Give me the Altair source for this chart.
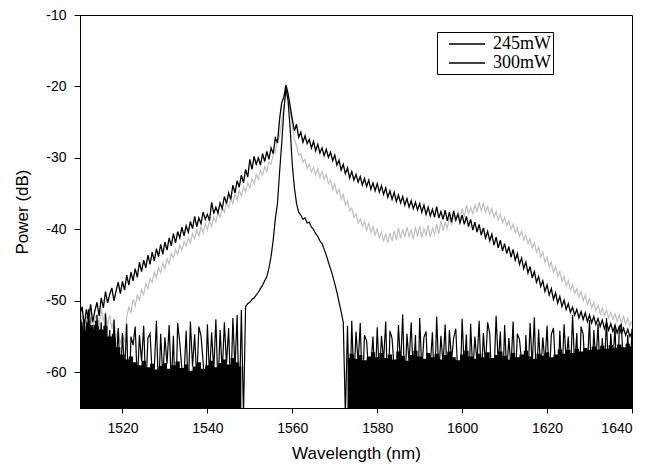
import altair as alt
import pandas as pd
import numpy as np

# ---------------- data ----------------
WL_START = 1510.0
WL_STEP = 0.5          # nm between samples of the three traces

# black broad trace (300mW)
P300 = [
    -52.0, -50.8, -53.5, -51.2, -52.6, -50.5, -53.0, -51.4, -50.2, -52.1,
    -49.6, -51.0, -48.7, -50.3, -49.1, -48.2, -50.0, -48.6, -47.4, -49.0,
    -47.3, -48.5, -46.4, -47.8, -46.0, -47.2, -45.5, -46.7, -44.6, -45.9,
    -44.3, -45.4, -43.6, -44.9, -43.2, -44.4, -42.7, -43.8, -42.1, -43.5,
    -41.8, -42.9, -41.2, -42.3, -40.6, -41.9, -40.3, -41.2, -39.7, -40.9,
    -39.5, -40.4, -38.9, -39.9, -38.2, -39.6, -38.4, -39.2, -37.6, -38.6,
    -37.9, -38.8, -36.2, -37.8, -36.9, -37.7, -36.3, -37.1, -35.4, -36.4,
    -34.9, -35.8, -33.8, -34.9, -33.2, -34.1, -32.4, -33.5, -31.6, -32.7,
    -30.2, -31.6, -29.8, -30.9, -30.0, -31.0, -29.4, -30.5, -29.1, -30.2,
    -28.6, -29.4, -27.2, -27.9, -24.6, -22.3, -21.5, -19.8, -21.0, -22.8,
    -24.6, -26.2, -25.3, -27.1, -26.4, -27.8, -26.9, -28.0, -27.4, -28.6,
    -27.7, -29.0, -28.1, -29.3, -28.6, -29.7, -28.8, -29.9, -29.2, -30.4,
    -29.6, -31.0, -30.3, -31.7, -30.9, -32.2, -31.4, -32.8, -31.9, -33.1,
    -32.3, -33.4, -32.6, -33.8, -32.9, -34.0, -33.1, -34.4, -33.5, -34.6,
    -33.6, -34.8, -33.9, -35.1, -34.2, -35.5, -34.6, -35.8, -34.8, -36.1,
    -35.2, -36.3, -35.4, -36.6, -35.7, -36.9, -36.0, -37.1, -36.2, -37.3,
    -36.4, -37.6, -36.6, -37.9, -36.9, -38.1, -37.2, -38.3, -36.8, -38.4,
    -37.5, -38.6, -37.3, -38.8, -37.6, -39.0, -37.4, -38.7, -37.9, -39.1,
    -38.0, -39.3, -38.2, -39.6, -38.6, -40.1, -39.0, -40.4, -39.3, -40.8,
    -39.8, -41.2, -40.3, -41.6, -40.7, -42.2, -41.1, -42.6, -41.5, -43.0,
    -42.0, -43.4, -42.4, -43.9, -42.8, -44.3, -43.4, -44.9, -44.0, -45.5,
    -44.6, -46.1, -45.2, -46.8, -45.9, -47.4, -46.6, -48.0, -47.2, -48.7,
    -47.8, -49.2, -48.3, -49.8, -48.9, -50.3, -49.4, -50.8, -49.9, -51.2,
    -50.4, -51.6, -50.9, -52.0, -51.2, -52.4, -51.5, -52.6, -51.7, -52.9,
    -52.0, -53.1, -52.2, -53.3, -52.5, -53.6, -52.7, -53.9, -53.0, -54.1,
    -53.2, -54.3, -53.4, -54.5, -53.6, -54.6, -53.8, -54.8, -54.0, -55.0,
    -54.4,
]

# grey broad trace
P_GREY = [
    -53.5, -51.8, -54.6, -52.3, -53.1, -51.6, -54.0, -52.5, -51.9, -53.6,
    -51.2, -52.8, -51.5, -53.4, -52.0, -53.9, -52.7, -55.2, -54.0, -56.1,
    -54.6, -55.8, -52.3, -50.9, -51.6, -49.8, -50.7, -49.2, -49.9, -48.4,
    -49.1, -47.6, -48.3, -46.9, -47.4, -46.0, -46.8, -45.3, -46.1, -44.7,
    -45.5, -44.1, -44.8, -43.4, -44.0, -42.8, -43.5, -42.2, -42.9, -41.7,
    -42.3, -41.2, -41.9, -40.6, -41.3, -40.1, -40.9, -39.6, -40.5, -39.2,
    -40.1, -38.8, -39.6, -38.2, -39.0, -37.6, -38.3, -36.9, -37.6, -36.3,
    -37.0, -35.7, -36.4, -35.0, -35.9, -34.6, -35.3, -34.0, -34.8, -33.5,
    -34.2, -32.9, -33.6, -32.3, -33.0, -31.7, -32.4, -31.2, -31.9, -30.6,
    -30.9, -29.5, -29.2, -27.6, -27.0, -24.8, -22.9, -21.0, -21.6, -23.4,
    -25.6, -27.4, -28.3, -29.6, -29.4, -30.6, -30.2, -31.4, -30.9, -32.0,
    -31.3, -32.4, -31.5, -32.7, -31.9, -33.0, -32.3, -33.6, -33.1, -34.4,
    -33.6, -35.0, -34.4, -35.8, -35.1, -36.6, -36.0, -37.4, -37.0, -38.3,
    -37.8, -39.1, -38.5, -39.6, -38.9, -40.1, -39.2, -40.4, -39.6, -40.8,
    -39.9, -41.2, -40.4, -41.7, -40.6, -41.9, -40.5, -41.6, -40.2, -41.5,
    -39.8, -41.3, -40.0, -41.1, -39.7, -41.0, -40.1, -41.4, -39.6, -41.0,
    -39.5, -41.2, -39.9, -40.8, -39.4, -41.1, -39.8, -40.7, -39.3, -40.6,
    -38.8, -40.2, -39.0, -39.8, -38.3, -39.4, -37.9, -39.0, -37.4, -38.6,
    -37.1, -38.3, -36.6, -37.8, -36.9, -37.9, -36.5, -37.6, -36.2, -37.4,
    -36.4, -37.6, -36.8, -37.9, -37.1, -38.3, -37.5, -38.7, -37.9, -39.1,
    -38.3, -39.5, -38.8, -40.0, -39.3, -40.5, -39.8, -41.0, -40.3, -41.5,
    -40.8, -42.0, -41.3, -42.6, -41.9, -43.2, -42.5, -43.9, -43.2, -44.6,
    -43.9, -45.3, -44.6, -46.0, -45.2, -46.6, -45.9, -47.3, -46.6, -47.9,
    -47.2, -48.5, -47.8, -49.0, -48.3, -49.5, -48.7, -50.0, -49.2, -50.5,
    -49.7, -51.0, -50.2, -51.4, -50.6, -51.8, -51.0, -52.1, -51.3, -52.4,
    -51.6, -52.6, -51.8, -52.9, -52.0, -53.1, -52.2, -53.3, -52.4, -53.5,
    -52.8,
]

# narrow black trace (245mW) with its noise floor
P245 = [
    -51.5, -58.0, -52.8, -61.0, -51.2, -57.5, -53.4, -63.0, -52.0, -59.0,
    -53.0, -60.5, -51.8, -58.2, -54.1, -64.0, -52.6, -59.5, -53.8, -62.0,
    -54.5, -60.0, -53.2, -66.0, -55.0, -56.2, -53.6, -61.5, -54.8, -58.5,
    -53.5, -62.5, -55.2, -54.6, -60.2, -59.4, -52.8, -63.5, -54.6, -60.8,
    -55.1, -58.8, -53.4, -61.8, -54.9, -66.0, -53.1, -55.9, -59.6, -60.4,
    -54.2, -62.8, -52.9, -59.2, -54.7, -61.2, -53.6, -54.9, -58.6, -64.5,
    -53.3, -60.6, -54.4, -59.8, -52.6, -62.2, -54.1, -60.1, -53.0, -58.9,
    -53.8, -63.2, -52.4, -59.5, -52.0, -66.0, -51.3, -66.0, -50.8, -50.4,
    -50.2, -49.8, -49.6, -49.2, -48.8, -48.3, -47.8, -47.2, -46.6, -45.4,
    -43.8, -41.5, -38.5, -36.4, -32.0, -28.0, -23.5, -20.2, -22.0, -26.0,
    -31.0, -34.2, -36.4, -37.6, -38.0, -38.6, -38.4, -39.1, -39.0, -39.7,
    -40.0, -40.6, -41.0, -41.6, -42.0, -42.8, -43.6, -44.6, -45.5, -46.5,
    -47.6, -48.8, -50.2, -51.5, -53.0, -66.0, -53.5, -66.0, -52.8, -61.5,
    -54.3, -58.8, -53.1, -63.0, -54.8, -55.6, -60.2, -59.1, -55.0, -62.4,
    -53.7, -60.6, -54.9, -58.4, -52.9, -64.2, -54.2, -55.3, -59.7, -61.1,
    -53.4, -59.3, -51.9, -62.7, -54.6, -58.6, -53.0, -60.9, -54.8, -66.0,
    -52.4, -59.8, -55.1, -54.3, -61.6, -58.9, -54.4, -63.4, -52.2, -60.3,
    -54.9, -59.0, -53.3, -61.9, -54.1, -58.3, -55.2, -53.9, -60.7, -62.9,
    -52.5, -59.6, -54.7, -64.8, -53.2, -60.1, -55.0, -58.7, -52.8, -61.3,
    -54.5, -59.2, -53.0, -54.6, -62.1, -60.5, -52.1, -58.9, -54.3, -63.7,
    -53.4, -60.2, -55.2, -59.4, -52.9, -61.8, -54.6, -55.4, -58.5, -66.0,
    -54.8, -60.9, -53.1, -59.1, -52.3, -62.6, -54.0, -60.0, -55.1, -58.8,
    -53.5, -61.4, -54.7, -53.8, -59.6, -63.1, -54.2, -60.6, -53.3, -58.6,
    -55.0, -61.0, -52.0, -59.3, -54.5, -64.4, -53.6, -54.7, -60.4, -59.0,
    -52.7, -62.3, -54.1, -58.7, -53.2, -60.8, -55.2, -59.5, -52.4, -61.7,
    -54.6, -58.9, -53.5, -63.6, -54.0, -53.2, -60.1, -59.7, -54.8, -61.2,
    -53.9,
]

# dense black noise floor (top of the solid band), 1 nm steps
FLOOR_LEFT_START = 1510.0
FLOOR_LEFT = [
    -52.5, -53.0, -52.2, -53.4, -52.8, -54.0, -53.5, -55.0, -54.6, -56.5,
    -57.5, -58.2, -57.8, -58.6, -59.0, -58.4, -59.3, -58.8, -59.6, -59.1,
    -58.7, -59.5, -59.0, -58.5, -59.4, -58.9, -59.8, -59.2, -58.6, -59.5,
    -59.0, -58.4, -59.3, -58.7, -58.2, -58.9, -58.0, -58.6, -59.2,
]
FLOOR_RIGHT_START = 1573.0
FLOOR_RIGHT = [
    -58.0, -57.4, -58.1, -57.6, -58.3, -57.8, -57.2,
    -57.9, -57.3, -58.0, -57.5, -58.2, -57.1, -57.7, -58.4, -57.6, -57.0,
    -57.8, -58.1, -57.3, -57.9, -57.4, -58.2, -57.6, -57.1, -57.9, -58.3,
    -57.5, -57.0, -57.8, -58.1, -57.4, -57.9, -57.2, -58.0, -57.6, -57.1,
    -57.7, -58.2, -57.3, -57.9, -57.5, -57.0, -57.8, -58.1, -57.4, -57.7,
    -57.2, -57.9, -57.5, -56.8, -57.4, -56.9, -57.3, -56.7, -57.1, -56.6,
    -56.9, -56.4, -56.8, -56.3, -56.7, -56.2, -56.6, -56.1, -56.5, -56.0, -56.4,
]

SERIES = ["245mW", "300mW", "grey"]
COLORS = ["#000000", "#000000", "#c0c0c0"]
LEGEND_ENTRIES = ["245mW", "300mW"]
X_DOMAIN = [1510, 1640]
Y_DOMAIN = [-65, -10]
X_TICKS = [1520, 1540, 1560, 1580, 1600, 1620, 1640]
Y_TICKS = [-60, -50, -40, -30, -20, -10]

# ---------------- tables ----------------
wl = WL_START + WL_STEP * np.arange(len(P300))
df_grey = pd.DataFrame({"wl": wl, "p": P_GREY, "series": "grey"})
df_300 = pd.DataFrame({"wl": wl, "p": P300, "series": "300mW"})
df_245 = pd.DataFrame({"wl": wl, "p": P245, "series": "245mW"})
df_floor = pd.concat([
    pd.DataFrame({"wl": FLOOR_LEFT_START + np.arange(len(FLOOR_LEFT)), "p": FLOOR_LEFT, "seg": "L"}),
    pd.DataFrame({"wl": FLOOR_RIGHT_START + np.arange(len(FLOOR_RIGHT)), "p": FLOOR_RIGHT, "seg": "R"}),
])

x_enc = alt.X("wl:Q", scale=alt.Scale(domain=X_DOMAIN, nice=False, zero=False),
              axis=alt.Axis(values=X_TICKS, title="Wavelength (nm)", grid=False,
                            tickSize=5, labelPadding=8, titlePadding=10,
                            labelFontSize=14, titleFontSize=17, labelExpr="'' + datum.value"))
y_enc = alt.Y("p:Q", scale=alt.Scale(domain=Y_DOMAIN, nice=False, zero=False),
              axis=alt.Axis(values=Y_TICKS, title="Power (dB)", grid=False,
                            tickSize=6, labelPadding=8, titlePadding=14,
                            labelFontSize=14, titleFontSize=17, labelExpr="'' + datum.value"))

color_enc = alt.Color("series:N",
                      scale=alt.Scale(domain=SERIES, range=COLORS),
                      legend=alt.Legend(values=LEGEND_ENTRIES, title=None, orient="none",
                                        legendX=357, legendY=17,
                                        symbolType="M-2,0H2", symbolSize=324,
                                        symbolStrokeWidth=1.4, symbolOffset=18,
                                        symbolStrokeColor="black", symbolOpacity=1,
                                        labelFont="Liberation Serif",
                                        labelFontSize=18, labelOffset=16, rowPadding=-11,
                                        padding=2, strokeColor="black", fillColor="white",
                                        labelColor="black", cornerRadius=0))

floor = alt.Chart(df_floor).mark_area(color="black", clip=True, interpolate="step").encode(
    x=x_enc, y=y_enc, y2=alt.datum(Y_DOMAIN[0]), detail="seg:N")

def trace(df, width):
    return alt.Chart(df).mark_line(strokeWidth=width, clip=True).encode(
        x=x_enc, y=y_enc, color=color_enc)

chart = alt.layer(floor, trace(df_grey, 1.2), trace(df_300, 1.3), trace(df_245, 1.2)).properties(
    width=552, height=393,
    autosize=alt.AutoSizeParams(type="none"),
    padding={"left": 72, "top": 7, "right": 9, "bottom": 56},
).configure_axis(
    labelFont="Liberation Sans", titleFont="Liberation Sans", titleFontWeight="normal",
    domainColor="black", tickColor="black", labelColor="black", titleColor="black",
    domainWidth=1, tickWidth=1,
).configure_view(stroke="black", strokeWidth=1)

chart.save("out.html", embed_options={"renderer": "svg", "actions": False})
